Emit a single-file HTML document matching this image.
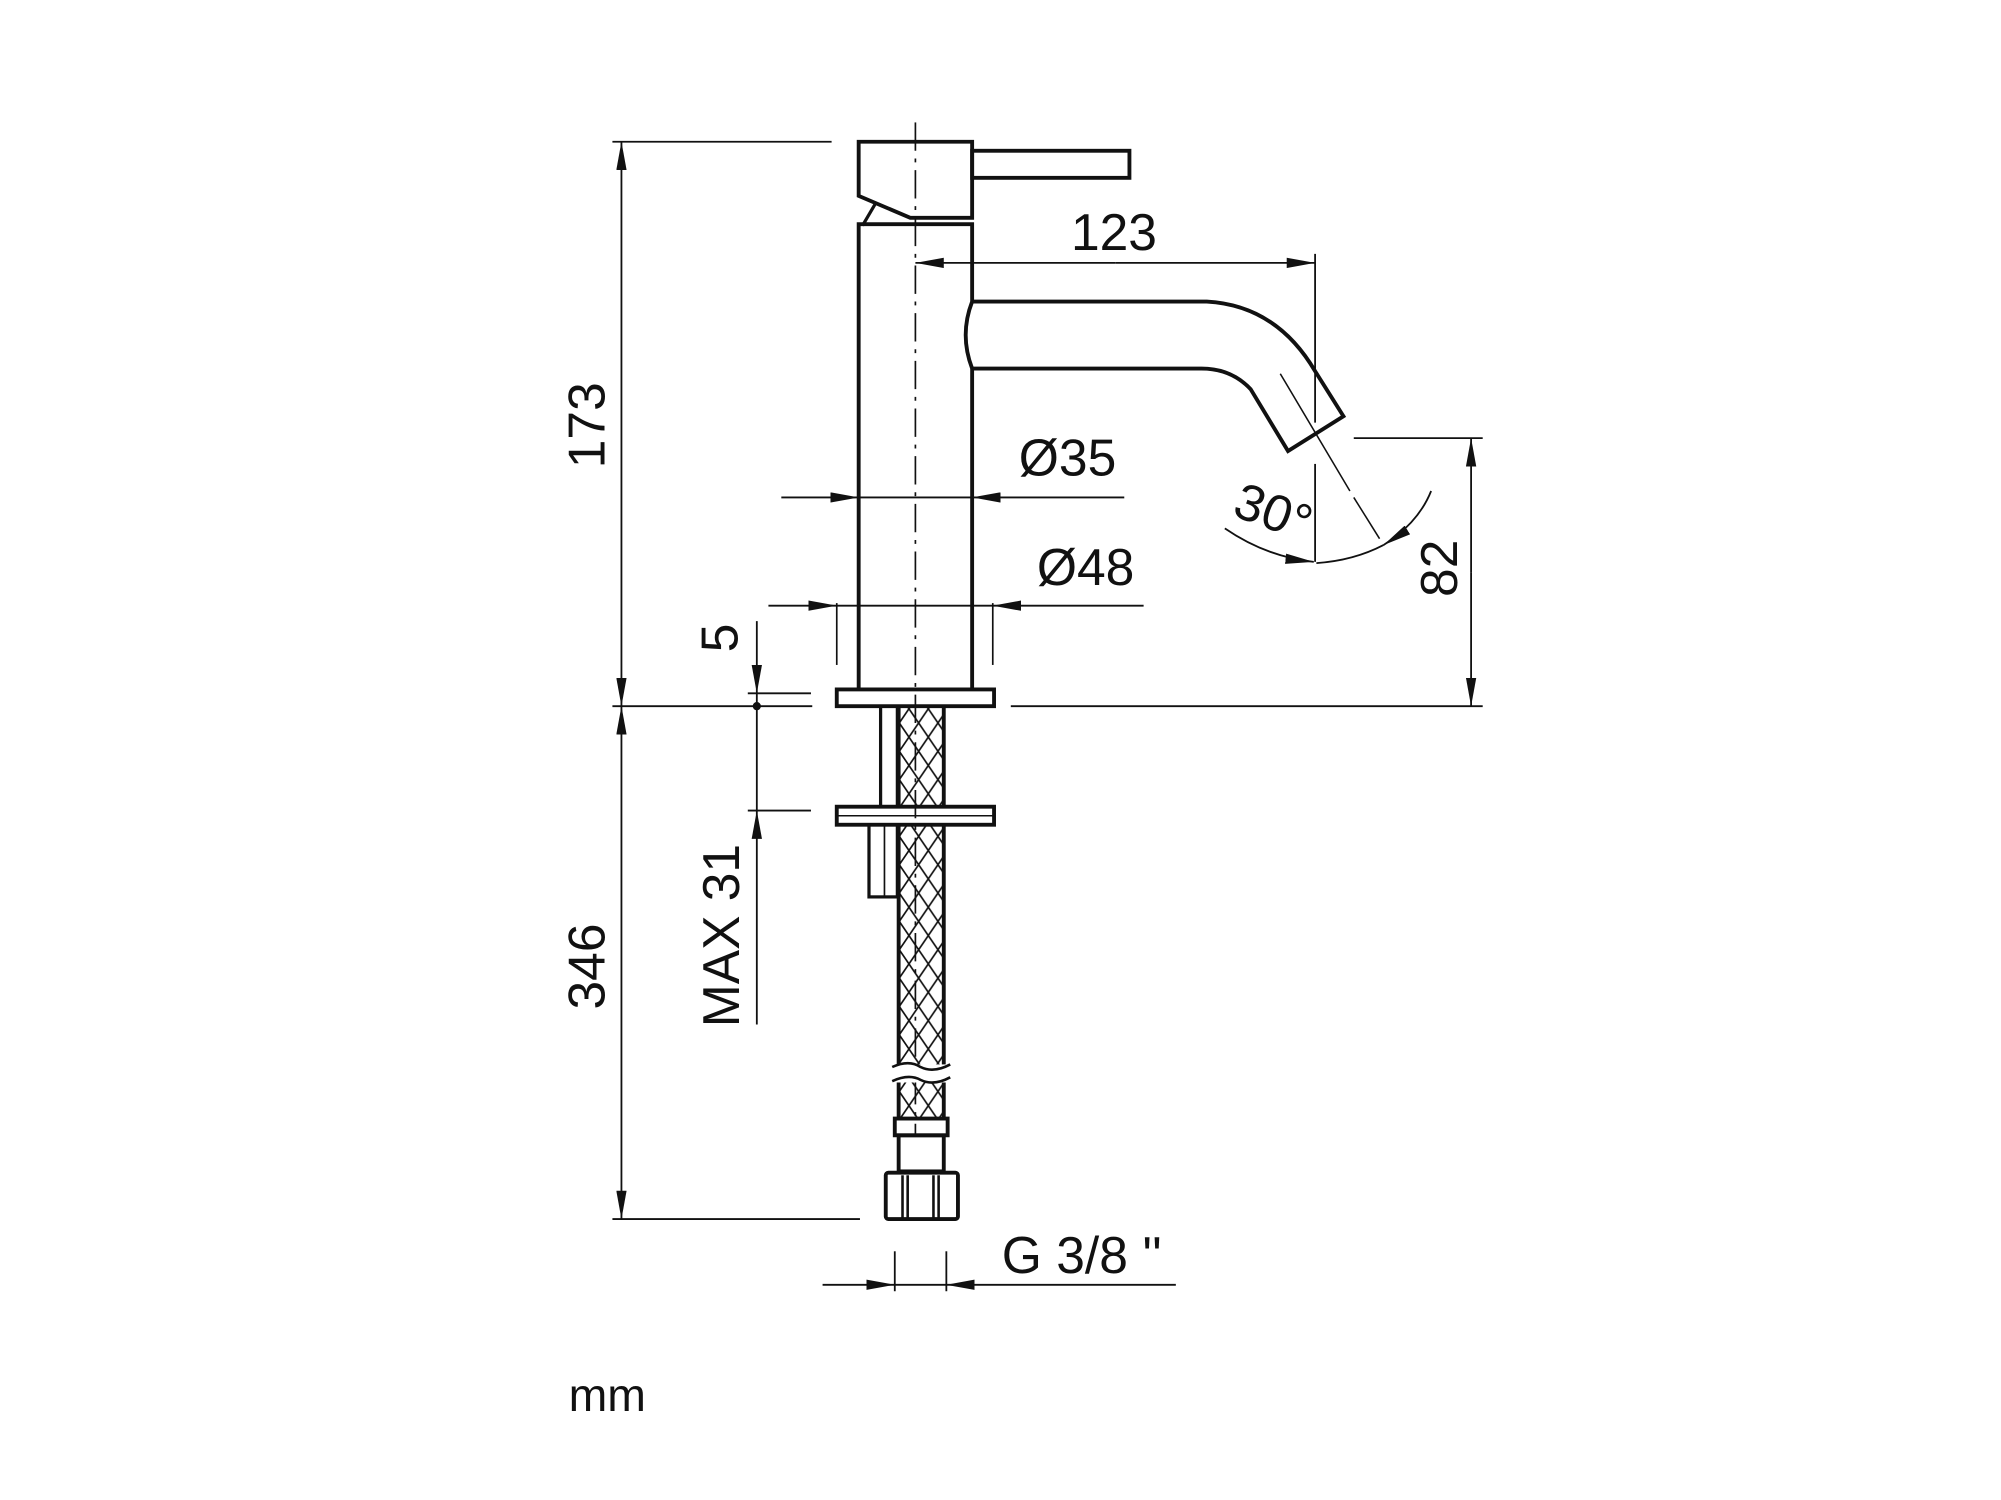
<!DOCTYPE html>
<html><head><meta charset="utf-8"><style>
html,body{margin:0;padding:0;background:#fff;}
svg{display:block;}
text{font-family:"Liberation Sans",sans-serif;fill:#111;}
</style></head><body>
<svg width="2001" height="1500" viewBox="0 0 1552 1164" preserveAspectRatio="none" xmlns="http://www.w3.org/2000/svg">
<defs>
<pattern id="hx" width="15" height="22" patternUnits="userSpaceOnUse">
<path d="M0,0 L15,22 M15,0 L0,22" stroke="#111" stroke-width="1.3" fill="none"/>
</pattern>
<marker id="a" viewBox="0 0 22 8" refX="22" refY="4" markerWidth="22" markerHeight="8" markerUnits="userSpaceOnUse" orient="auto">
<path d="M0,0 L22,4 L0,8 Z" fill="#111"/>
</marker>
</defs>
<g stroke="#111" fill="none" stroke-linecap="butt">
<line x1="710" y1="95" x2="710" y2="880" stroke-width="1.3" stroke-dasharray="22,6,3,6"/>
<path d="M666,110 H754 V169 H706 L666,152 Z" stroke-width="3"/>
<rect x="754" y="117" width="122" height="21" stroke-width="3"/>
<line x1="669" y1="175" x2="679" y2="158" stroke-width="2.5"/>
<path d="M666,535 V174 H754 V234 Q744,260 754,286 V535" stroke-width="3"/>
<path d="M754,234 H936 Q990,237 1020,288 L1042,323 L999,350 L970,302 Q955,286 932,286 H754" stroke-width="3"/>
<path d="M993,290 L1047,381" stroke-width="1.2"/>
<path d="M1050,386 L1070,418" stroke-width="1.2"/>
<rect x="649" y="535" width="122" height="13" stroke-width="3"/>
<line x1="649" y1="468" x2="649" y2="516" stroke-width="1.3"/>
<line x1="770" y1="468" x2="770" y2="516" stroke-width="1.3"/>
<rect x="683" y="548" width="13" height="78" stroke-width="2.5"/>
<rect x="649" y="626" width="122" height="14" stroke-width="3"/>
<line x1="649" y1="633" x2="771" y2="633" stroke-width="1.2"/>
<rect x="674" y="640" width="22" height="56" stroke-width="2.5"/>
<line x1="686" y1="640" x2="686" y2="696" stroke-width="1.3"/>
<rect x="697" y="548" width="35" height="78" fill="url(#hx)" stroke="none"/>
<rect x="697" y="640" width="35" height="228" fill="url(#hx)" stroke="none"/>
<line x1="697" y1="548" x2="697" y2="626" stroke-width="3"/>
<line x1="732" y1="548" x2="732" y2="626" stroke-width="3"/>
<line x1="697" y1="640" x2="697" y2="868" stroke-width="3"/>
<line x1="732" y1="640" x2="732" y2="868" stroke-width="3"/>
<rect x="695" y="826" width="40" height="14" fill="#fff" stroke="none"/>
<path d="M692,828 Q705,822 714,828 Q724,833 737,826" stroke-width="2"/>
<path d="M692,839 Q705,833 714,838 Q724,843 737,836" stroke-width="2"/>
<rect x="694" y="868" width="41" height="13" stroke-width="3"/>
<rect x="697" y="881" width="35" height="28" stroke-width="3"/>
<rect x="687" y="910" width="56" height="36" rx="2" stroke-width="3"/>
<line x1="700" y1="912" x2="700" y2="945" stroke-width="2"/>
<line x1="704" y1="912" x2="704" y2="945" stroke-width="2"/>
<line x1="724" y1="912" x2="724" y2="945" stroke-width="2"/>
<line x1="728" y1="912" x2="728" y2="945" stroke-width="2"/>
</g>
<g stroke="#111" fill="none" stroke-width="1.4">
<line x1="475" y1="110" x2="645" y2="110"/>
<line x1="475" y1="548" x2="630" y2="548"/>
<line x1="784" y1="548" x2="1150" y2="548"/>
<line x1="475" y1="946" x2="667" y2="946"/>
<line x1="482" y1="331" x2="482" y2="110" marker-end="url(#a)"/>
<line x1="482" y1="331" x2="482" y2="548" marker-end="url(#a)"/>
<line x1="482" y1="750" x2="482" y2="548" marker-end="url(#a)"/>
<line x1="482" y1="750" x2="482" y2="946" marker-end="url(#a)"/>
<line x1="580" y1="538" x2="629" y2="538"/>
<line x1="580" y1="629" x2="629" y2="629"/>
<line x1="587" y1="482" x2="587" y2="538" marker-end="url(#a)"/>
<line x1="587" y1="538" x2="587" y2="629"/>
<line x1="587" y1="795" x2="587" y2="629" marker-end="url(#a)"/>
<circle cx="587" cy="548" r="2.5" fill="#111"/>
<line x1="606" y1="386" x2="666" y2="386" marker-end="url(#a)"/>
<line x1="666" y1="386" x2="754" y2="386"/>
<line x1="872" y1="386" x2="754" y2="386" marker-end="url(#a)"/>
<line x1="596" y1="470" x2="649" y2="470" marker-end="url(#a)"/>
<line x1="649" y1="470" x2="770" y2="470"/>
<line x1="887" y1="470" x2="770" y2="470" marker-end="url(#a)"/>
<line x1="865" y1="204" x2="710" y2="204" marker-end="url(#a)"/>
<line x1="865" y1="204" x2="1020" y2="204" marker-end="url(#a)"/>
<line x1="1020" y1="197" x2="1020" y2="328"/>
<line x1="1020" y1="360" x2="1020" y2="436"/>
<line x1="1050" y1="340" x2="1150" y2="340"/>
<line x1="1141" y1="444" x2="1141" y2="340" marker-end="url(#a)"/>
<line x1="1141" y1="444" x2="1141" y2="548" marker-end="url(#a)"/>
<path d="M950,410 Q982,432 1019,436" marker-end="url(#a)"/>
<path d="M1021,437 Q1050,435 1073,423"/>
<path d="M1110,381 Q1100,406 1073,423" marker-end="url(#a)"/>
<line x1="638" y1="997" x2="694" y2="997" marker-end="url(#a)"/>
<line x1="694" y1="997" x2="734" y2="997"/>
<line x1="912" y1="997" x2="734" y2="997" marker-end="url(#a)"/>
<line x1="694" y1="971" x2="694" y2="1002"/>
<line x1="734" y1="971" x2="734" y2="1002"/>
</g>
<g font-size="40">
<text x="864" y="194" text-anchor="middle">123</text>
<text x="828" y="369" text-anchor="middle">Ø35</text>
<text x="842" y="454" text-anchor="middle">Ø48</text>
<text transform="translate(469,330) rotate(-90)" text-anchor="middle">173</text>
<text transform="translate(469,750) rotate(-90)" text-anchor="middle">346</text>
<text transform="translate(572,495) rotate(-90)" text-anchor="middle">5</text>
<text transform="translate(573,726) rotate(-90)" text-anchor="middle">MAX 31</text>
<text transform="translate(1130,441) rotate(-90)" text-anchor="middle">82</text>
<text transform="translate(983,410) rotate(20)" text-anchor="middle">30°</text>
<text x="777" y="988">G 3/8 ''</text>
<text x="441" y="1095" font-size="36">mm</text>
</g>
</svg>
</body></html>
